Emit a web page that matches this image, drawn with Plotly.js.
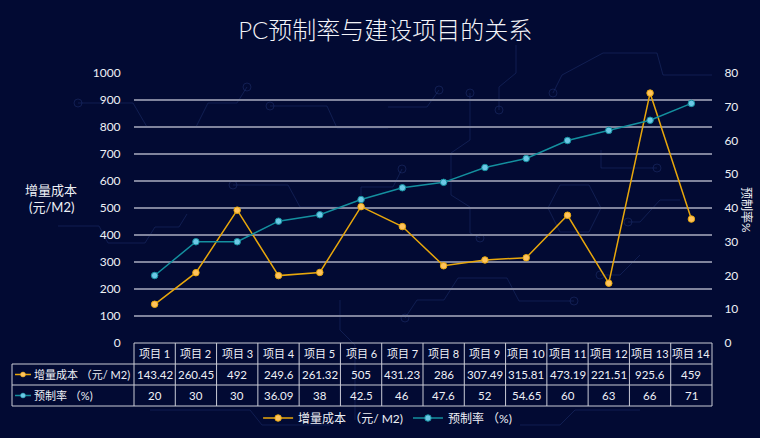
<!DOCTYPE html>
<html>
<head>
<meta charset="utf-8">
<script src="https://cdn.plot.ly/plotly-3.0.1.min.js"></script>
<style>
  html, body { margin: 0; padding: 0; background: #020a33; }
  #chart { width: 760px; height: 438px; }
</style>
</head>
<body>
<div id="chart"></div>
<script>
// ---- data ----
const categories = ["项目 1","项目 2","项目 3","项目 4","项目 5","项目 6","项目 7","项目 8","项目 9","项目 10","项目 11","项目 12","项目 13","项目 14"];
const costValues = [143.42, 260.45, 492, 249.6, 261.32, 505, 431.23, 286, 307.49, 315.81, 473.19, 221.51, 925.6, 459];
const rateValues = [20, 30, 30, 36.09, 38, 42.5, 46, 47.6, 52, 54.65, 60, 63, 66, 71];
const costName = "增量成本 （元/ M2)";
const rateName = "预制率 （%)";
const titleText = "PC预制率与建设项目的关系";
const leftAxisTitleLines = ["增量成本", "(元/M2)"];
const rightAxisTitle = "预制率%";

// ---- layout geometry (pixels) ----
const W = 760, H = 438;
const L = 134, R = 712, T = 73, B = 343;
const PW = R - L, PH = B - T;
const px = x => (x - L) / PW;      // pixel x -> paper x
const py = y => (B - y) / PH;      // pixel y -> paper y

const FONT = 'Lato, "Noto Sans CJK SC", sans-serif';
const orange = '#e8a70c', orangeMk = '#ffc35e';
const teal = '#14909f', tealMk = '#6cc8e6';
const borderCol = '#c9cbd6';
const textCol = '#eef0f6';

const traces = [
  {
    x: categories, y: costValues, name: costName, type: 'scatter', mode: 'lines+markers',
    yaxis: 'y',
    line: {color: orange, width: 1.5},
    marker: {color: orangeMk, size: 6.5, line: {color: orange, width: 1}}
  },
  {
    x: categories, y: rateValues, name: rateName, type: 'scatter', mode: 'lines+markers',
    yaxis: 'y2',
    line: {color: teal, width: 1.5},
    marker: {color: tealMk, size: 6.5, line: {color: teal, width: 1}}
  }
];

// ---- decorative circuit lines (background) ----
const decoCol = 'rgba(36,56,120,0.45)';
const decoPaths = [
  [[78,103],[133,103],[147,127],[196,127],[208,103],[237,103],[247,87]],
  [[270,106],[327,106],[337,128],[388,128]],
  [[388,107],[427,107],[439,90]],
  [[470,93],[470,140],[451,153],[451,195],[470,207],[470,233],[480,238]],
  [[233,185],[288,185],[300,207],[339,207]],
  [[402,169],[393,187],[361,187],[361,197]],
  [[58,226],[99,226],[108,243],[145,243],[155,227],[179,227],[187,214]],
  [[405,318],[417,300],[444,300],[458,278],[507,278],[519,301],[574,301]],
  [[560,185],[589,185],[601,208],[589,232],[560,232],[548,208],[560,185]],
  [[499,110],[499,87],[516,73],[516,45]],
  [[553,93],[562,75],[603,53],[657,53],[663,75],[712,75]],
  [[601,150],[601,168],[657,168]],
  [[628,222],[640,222],[660,200],[680,200]],
  [[600,275],[620,275],[640,255]],
  [[340,300],[340,330],[355,345],[355,420]],
  [[150,410],[250,410],[262,425],[330,425]],
  [[520,425],[560,425],[575,410],[640,410]]
];
const decoCircles = [[78,103],[247,87],[270,106],[439,90],[470,93],[480,238],[233,185],[402,169],[405,318],[574,301],[553,93],[657,168],[628,222],[600,275],[499,110]];

const shapes = [];
decoPaths.forEach(pts => {
  let d = 'M ' + pts.map(p => px(p[0]).toFixed(5) + ',' + py(p[1]).toFixed(5)).join(' L ');
  shapes.push({type: 'path', xref: 'paper', yref: 'paper', path: d, layer: 'below',
               line: {color: decoCol, width: 1}});
});
decoCircles.forEach(c => {
  const r = 4;
  shapes.push({type: 'circle', xref: 'paper', yref: 'paper', layer: 'below',
    x0: px(c[0]-r), x1: px(c[0]+r), y0: py(c[1]+r), y1: py(c[1]-r),
    line: {color: decoCol, width: 1}});
});

// ---- data table below the plot ----
const rowTop = 343, rowH = 21;
const labelLeft = 12;
const n = categories.length;
function hline(y, x0px) {
  shapes.push({type: 'line', xref: 'paper', yref: 'paper', x0: px(x0px), x1: px(R), y0: py(y), y1: py(y),
    line: {color: borderCol, width: 1}});
}
hline(rowTop, L);
hline(rowTop + rowH, labelLeft);
hline(rowTop + 2*rowH, labelLeft);
hline(rowTop + 3*rowH, labelLeft);
shapes.push({type: 'line', xref: 'paper', yref: 'paper', x0: px(labelLeft), x1: px(labelLeft), y0: py(rowTop + rowH), y1: py(rowTop + 3*rowH), line: {color: borderCol, width: 1}});
shapes.push({type: 'line', xref: 'paper', yref: 'paper', x0: 0, x1: 0, y0: py(rowTop), y1: py(rowTop + 3*rowH), line: {color: borderCol, width: 1}});
shapes.push({type: 'line', xref: 'paper', yref: 'paper', x0: 1, x1: 1, y0: py(rowTop), y1: py(rowTop + 3*rowH), line: {color: borderCol, width: 1}});
for (let i = 1; i < n; i++) {
  shapes.push({type: 'line', xref: 'x', yref: 'paper', x0: i - 0.5, x1: i - 0.5, y0: py(rowTop), y1: py(rowTop + 3*rowH), line: {color: borderCol, width: 1}});
}
const rowSymbols = [[orange, orangeMk, rowTop + 1.5*rowH], [teal, tealMk, rowTop + 2.5*rowH]];
rowSymbols.forEach(s => {
  shapes.push({type: 'line', xref: 'paper', yref: 'paper', x0: px(15), x1: px(31), y0: py(s[2]), y1: py(s[2]), line: {color: s[0], width: 1.5}});
  shapes.push({type: 'circle', xref: 'paper', yref: 'paper', x0: px(20.5), x1: px(25.5), y0: py(s[2]+2.5), y1: py(s[2]-2.5), fillcolor: s[1], line: {color: s[0], width: 0.5}});
});

const annotations = [];
const headFont = {family: FONT, size: 11, color: textCol};
const cellFont = {family: FONT, size: 11.5, color: textCol};
const labelFont = {family: FONT, size: 11, color: textCol};
categories.forEach((c, i) => {
  annotations.push({xref: 'x', yref: 'paper', x: c, y: py(rowTop + 0.5*rowH), text: c, showarrow: false, font: headFont, xanchor: 'center', yanchor: 'middle'});
  annotations.push({xref: 'x', yref: 'paper', x: c, y: py(rowTop + 1.5*rowH), text: String(costValues[i]), showarrow: false, font: cellFont, xanchor: 'center', yanchor: 'middle'});
  annotations.push({xref: 'x', yref: 'paper', x: c, y: py(rowTop + 2.5*rowH), text: String(rateValues[i]), showarrow: false, font: cellFont, xanchor: 'center', yanchor: 'middle'});
});
annotations.push({xref: 'paper', yref: 'paper', x: px(32), y: py(rowTop + 1.5*rowH), text: costName, showarrow: false, font: labelFont, xanchor: 'left', yanchor: 'middle'});
annotations.push({xref: 'paper', yref: 'paper', x: px(32), y: py(rowTop + 2.5*rowH), text: rateName, showarrow: false, font: labelFont, xanchor: 'left', yanchor: 'middle'});

// axis titles
const axTitleFont = {family: FONT, size: 13, color: textCol};
annotations.push({xref: 'paper', yref: 'paper', x: px(51), y: py(190), text: leftAxisTitleLines[0], showarrow: false,
  font: axTitleFont, xanchor: 'center', yanchor: 'middle'});
annotations.push({xref: 'paper', yref: 'paper', x: px(51), y: py(207), text: leftAxisTitleLines[1], showarrow: false,
  font: axTitleFont, xanchor: 'center', yanchor: 'middle'});
annotations.push({xref: 'paper', yref: 'paper', x: px(747), y: py(210), text: rightAxisTitle, showarrow: false, textangle: 90,
  font: {family: FONT, size: 12, color: textCol}, xanchor: 'center', yanchor: 'middle'});

const layout = {
  width: W, height: H,
  margin: {l: L, r: W - R, t: T, b: H - B, pad: 0},
  paper_bgcolor: '#020a33',
  plot_bgcolor: 'rgba(0,0,0,0)',
  font: {family: FONT, color: textCol, size: 12},
  title: {text: titleText, x: 0.507, xref: 'container', xanchor: 'center', y: 1 - 31/H, yref: 'container', yanchor: 'middle',
          font: {family: FONT, size: 24, color: '#f2f3f8', weight: 300}},
  showlegend: true,
  legend: {orientation: 'h', xref: 'container', yref: 'container', x: 0.51, xanchor: 'center', y: 1 - 418/H, yanchor: 'middle',
           font: {family: FONT, size: 12, color: textCol}, bgcolor: 'rgba(0,0,0,0)', itemwidth: 30, traceorder: 'normal'},
  xaxis: {type: 'category', range: [-0.5, n - 0.5], showticklabels: false, showgrid: false, zeroline: false,
          showline: false, ticks: '', fixedrange: true},
  yaxis: {range: [0, 1000], dtick: 100, tick0: 0, showgrid: true, gridcolor: '#80849d', gridwidth: 1.5,
          zeroline: false, showline: false, ticks: 'outside', ticklen: 10, tickcolor: 'rgba(0,0,0,0)',
          tickfont: {family: FONT, size: 12, color: textCol}, fixedrange: true},
  yaxis2: {range: [0, 80], dtick: 10, tick0: 0, overlaying: 'y', side: 'right', showgrid: false, zeroline: false,
           showline: false, ticks: 'outside', ticklen: 9, tickcolor: 'rgba(0,0,0,0)',
           tickfont: {family: FONT, size: 12, color: textCol}, fixedrange: true},
  shapes: shapes,
  annotations: annotations,
  hovermode: false
};

Plotly.newPlot('chart', traces, layout, {displayModeBar: false, staticPlot: true});
</script>
</body>
</html>
